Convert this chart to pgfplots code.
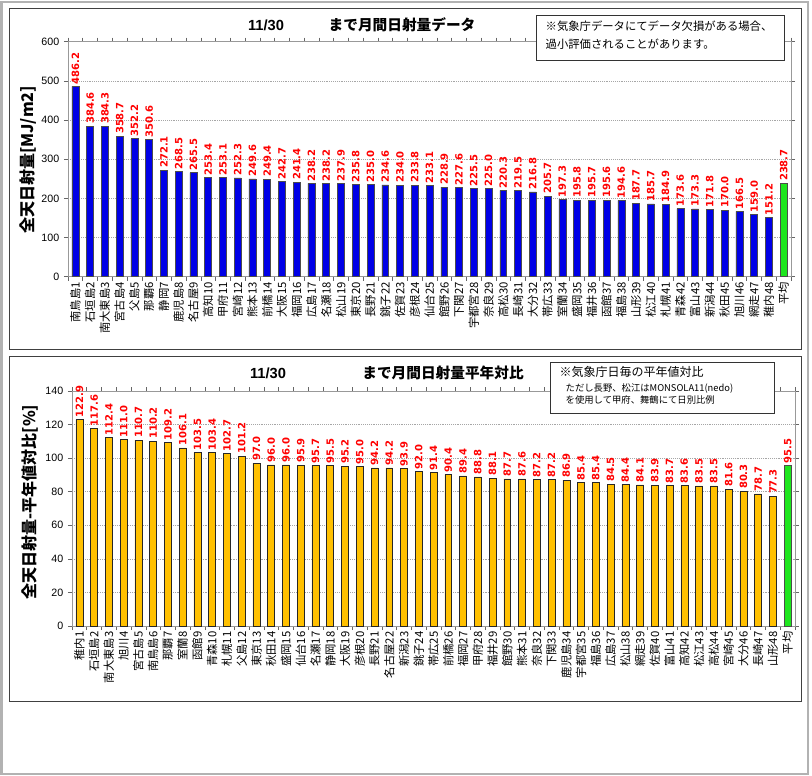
\documentclass[border=0pt]{standalone}
\usepackage{fontspec}
\setmainfont{Liberation Sans}
\newfontfamily\jp{Noto Sans CJK JP}
\newfontfamily\lab{DejaVu Sans}
\usepackage{pgfplots}
\usepackage{pgfplotstable}
\pgfplotsset{compat=1.18}

\definecolor{barblue}{RGB}{0,0,230}
\definecolor{bargold}{RGB}{255,192,0}
\definecolor{bargreen}{RGB}{30,230,30}

% monthly totals up to 11/30 [MJ/m2]
\pgfplotstableread{
idx val name
1 486.2 南鳥島1
2 384.6 石垣島2
3 384.3 南大東島3
4 358.7 宮古島4
5 352.2 父島5
6 350.6 那覇6
7 272.1 静岡7
8 268.5 鹿児島8
9 265.5 名古屋9
10 253.4 高知10
11 253.1 甲府11
12 252.3 宮崎12
13 249.6 熊本13
14 249.4 前橋14
15 242.7 大阪15
16 241.4 福岡16
17 238.2 広島17
18 238.2 名瀬18
19 237.9 松山19
20 235.8 東京20
21 235.0 長野21
22 234.6 銚子22
23 234.0 佐賀23
24 233.8 彦根24
25 233.1 仙台25
26 228.9 館野26
27 227.6 下関27
28 225.5 宇都宮28
29 225.0 奈良29
30 220.3 高松30
31 219.5 長崎31
32 216.8 大分32
33 205.7 帯広33
34 197.3 室蘭34
35 195.8 盛岡35
36 195.7 福井36
37 195.6 函館37
38 194.6 福島38
39 187.7 山形39
40 185.7 松江40
41 184.9 札幌41
42 173.6 青森42
43 173.3 富山43
44 171.8 新潟44
45 170.0 秋田45
46 166.5 旭川46
47 159.0 網走47
48 151.2 稚内48
49 238.7 平均
}\radA

% ratio to normal [%]
\pgfplotstableread{
idx val name
1 122.9 稚内1
2 117.6 石垣島2
3 112.4 南大東島3
4 111.0 旭川4
5 110.7 宮古島5
6 110.2 南鳥島6
7 109.2 那覇7
8 106.1 室蘭8
9 103.5 函館9
10 103.4 青森10
11 102.7 札幌11
12 101.2 父島12
13 97.0 東京13
14 96.0 秋田14
15 96.0 盛岡15
16 95.9 仙台16
17 95.7 名瀬17
18 95.5 静岡18
19 95.2 大阪19
20 95.0 彦根20
21 94.2 長野21
22 94.2 名古屋22
23 93.9 新潟23
24 92.0 銚子24
25 91.4 帯広25
26 90.4 前橋26
27 89.4 福岡27
28 88.8 甲府28
29 88.1 福井29
30 87.7 館野30
31 87.6 熊本31
32 87.2 奈良32
33 87.2 下関33
34 86.9 鹿児島34
35 85.4 宇都宮35
36 85.4 福島36
37 84.5 広島37
38 84.4 松山38
39 84.1 網走39
40 83.9 佐賀40
41 83.7 富山41
42 83.6 高知42
43 83.5 松江43
44 83.5 高松44
45 81.6 宮崎45
46 80.3 大分46
47 78.7 長崎47
48 77.3 山形48
49 95.5 平均
}\radB

\pgfplotsset{
  sunbars/.style={
    scale only axis, anchor=north west,
    width=542.25pt, height=176.25pt,
    ybar, bar shift=0pt, bar width=0.47,
    xmin=0.5, xmax=49.5,
    xtick={1,...,49},
    minor xtick={0.5,1.5,...,49.5},
    tick align=outside,
    major x tick style={draw=none},
    minor tick length=3pt,
    major tick length=3pt,
    tick style={gray!80!black, thin},
    axis line style={gray!80},
    ymajorgrids,
    major grid style={densely dotted, gray!70},
    xticklabel style={rotate=90, anchor=east, font=\jp\fontsize{8.5}{9}\selectfont, inner sep=1pt},
    yticklabel style={font=\fontsize{8}{9}\selectfont},
    /pgf/number format/assume math mode=true,
    nodes near coords={\pgfmathprintnumber[fixed,fixed zerofill,precision=1]{\pgfplotspointmeta}},
    nodes near coords style={rotate=90, anchor=west, text=red, inner sep=1.5pt,
      font=\lab\bfseries\fontsize{7.5}{8}\selectfont},
  }
}

\begin{document}
\begin{tikzpicture}
% frame, drawn in pixel units with y downwards
\begin{scope}[x=0.75pt,y=-0.75pt]
\useasboundingbox (0,0) rectangle (812,775);
\draw[gray!60, line width=1.5pt] (1.5,1.5) rectangle (807.5,774);
\draw[black!75, line width=0.75pt] (9,8) rectangle (801,349);
\draw[black!75, line width=0.75pt] (9,356) rectangle (801,701);
\end{scope}

% upper chart: box corner at px (68,41.7)
\begin{axis}[sunbars, at={(51pt,-31.275pt)}, ymin=0, ymax=600, ytick={0,100,...,600},
  xticklabels from table={\radA}{name}]
\addplot[fill=barblue, draw=black!70, restrict x to domain=1:48] table[x=idx,y=val]{\radA};
\addplot[fill=bargreen, draw=black!70] coordinates {(49,238.7)};
\end{axis}

% lower chart: box corner at px (72,391)
\begin{axis}[sunbars, at={(54pt,-293.25pt)}, ymin=0, ymax=140, ytick={0,20,...,140},
  xticklabels from table={\radB}{name}]
\addplot[fill=bargold, draw=black!85, restrict x to domain=1:48] table[x=idx,y=val]{\radB};
\addplot[fill=bargreen, draw=black!70] coordinates {(49,95.5)};
\end{axis}

\begin{scope}[x=0.75pt,y=-0.75pt]
\node[font=\bfseries\fontsize{11}{12}\selectfont] at (266,25) {11/30};
\node[font=\jp\bfseries\fontsize{11}{12}\selectfont] at (402,25) {まで月間日射量データ};
\draw[black!80, fill=white] (536,15) rectangle (784,60);
\node[anchor=west, font=\jp\fontsize{8.5}{9}\selectfont] at (541,26) {※気象庁データにてデータ欠損がある場合、};
\node[anchor=west, font=\jp\fontsize{8.5}{9}\selectfont] at (541,44) {過小評価されることがあります。};
\node[rotate=90, font=\jp\bfseries\fontsize{12}{13}\selectfont] at (28,160) {全天日射量[MJ/m2]};

\node[font=\bfseries\fontsize{11}{12}\selectfont] at (268,373) {11/30};
\node[font=\jp\bfseries\fontsize{11}{12}\selectfont] at (443,373) {まで月間日射量平年対比};
\draw[black!80, fill=white] (550,362) rectangle (774,413);
\node[anchor=west, font=\jp\fontsize{9}{10}\selectfont] at (555,372) {※気象庁日毎の平年値対比};
\node[anchor=west, font=\jp\fontsize{7}{8}\selectfont] at (561,388) {ただし長野、松江はMONSOLA11(nedo)};
\node[anchor=west, font=\jp\fontsize{7}{8}\selectfont] at (561,400) {を使用して甲府、舞鶴にて日別比例};
\node[rotate=90, font=\jp\bfseries\fontsize{12}{13}\selectfont] at (30,502) {全天日射量-平年値対比[\%]};
\end{scope}
\end{tikzpicture}
\end{document}
